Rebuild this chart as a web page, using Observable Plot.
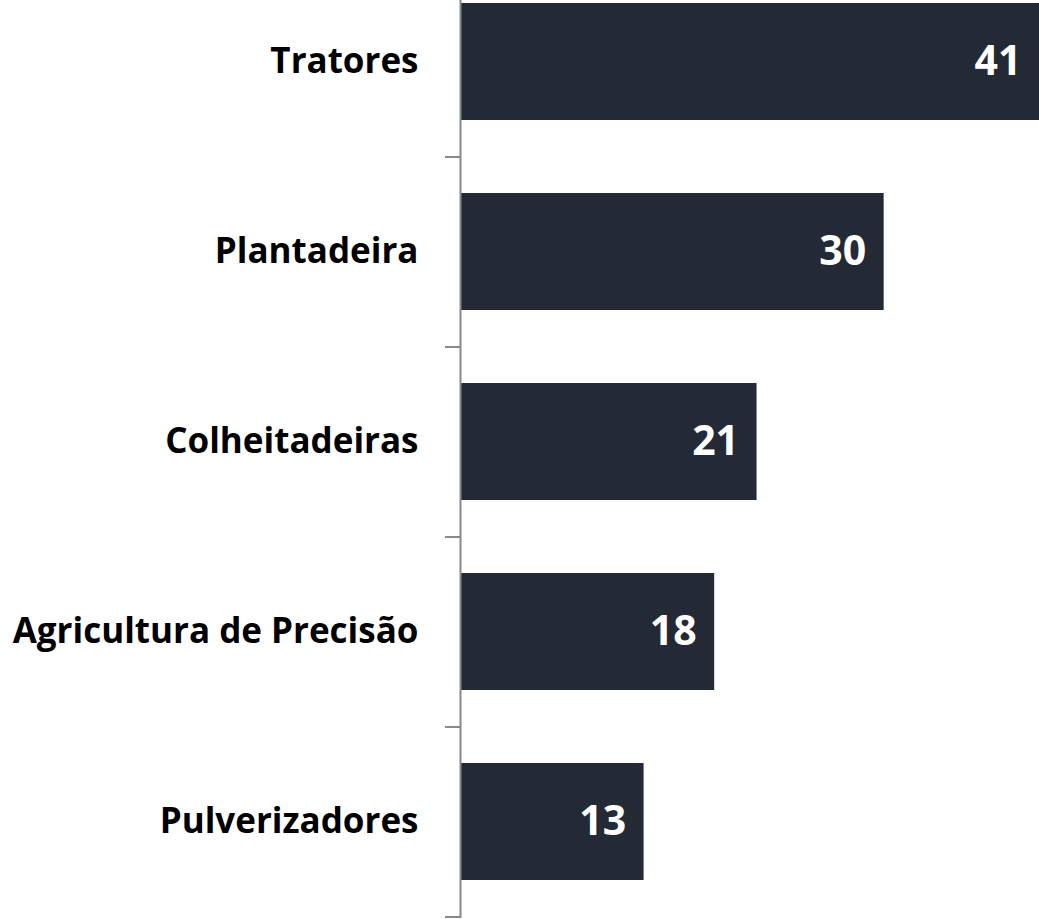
<!DOCTYPE html>
<html><head><meta charset="utf-8">
<script src="https://cdn.jsdelivr.net/npm/d3@7"></script>
<script src="https://cdn.jsdelivr.net/npm/@observablehq/plot@0.6"></script>
<style>body{margin:0;background:#fff;overflow:hidden}</style>
</head><body><div id="chart"></div>
<script>
const categories = ["Tratores", "Plantadeira", "Colheitadeiras", "Agricultura de Precisão", "Pulverizadores"];
const values = [41, 30, 21, 18, 13];
const data = categories.map((c, i) => ({cat: c, v: values[i]}));

const FONT = "'Open Sans', sans-serif";
const PAD = 0.385;

const tickMarks = (index, scales) => {
  const y = scales.y, x = scales.x;
  const bw = typeof y.bandwidth === "function" ? y.bandwidth() : y.bandwidth;
  const st = typeof y.step === "function" ? y.step() : (y.step ?? bw / (1 - PAD));
  const g = d3.create("svg:g").attr("stroke", "#888").attr("stroke-width", 2);
  const x0 = x(0);
  categories.forEach(c => {
    const yy = Math.round(y(c) + bw + (st - bw) / 2);
    g.append("line").attr("x1", x0 - 15).attr("x2", x0).attr("y1", yy).attr("y2", yy);
  });
  return g.node();
};

const chart = Plot.plot({
  width: 1039, height: 919,
  marginLeft: 460, marginRight: 0, marginTop: 0, marginBottom: 1,
  x: {domain: [0, 41], axis: null},
  y: {domain: categories, range: [-34.5, 918], paddingInner: PAD, paddingOuter: PAD / 2, axis: null},
  marks: [
    Plot.barX(data, {x: "v", y: "cat", fill: "#232a35"}),
    Plot.ruleX([0], {stroke: "#888", strokeWidth: 2}),
    tickMarks,
    Plot.text(data, {x: 0, y: "cat", text: "cat", textAnchor: "end", dx: -42, fontSize: 35, fontWeight: 700, fill: "#000", fontFamily: FONT}),
    Plot.text(data, {x: "v", y: "cat", text: d => String(d.v), textAnchor: "end", dx: -18, fontSize: 41, fontWeight: 700, fill: "#fff", fontFamily: FONT})
  ],
  style: {fontFamily: FONT, background: "#fff"}
});
document.getElementById("chart").appendChild(chart);
</script>
</body></html>
